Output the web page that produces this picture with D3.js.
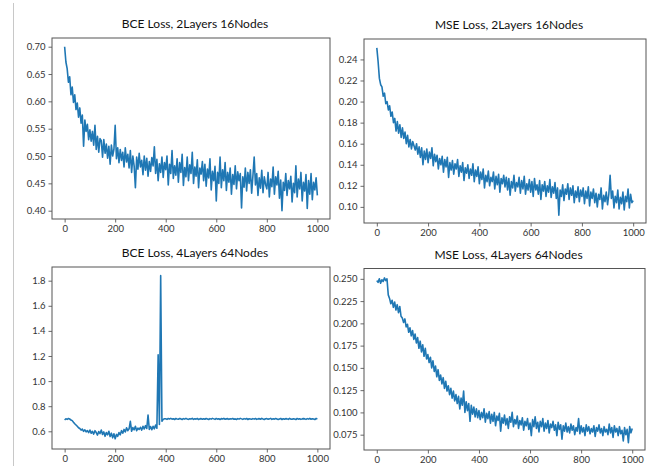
<!DOCTYPE html>
<html><head><meta charset="utf-8">
<script src="https://cdn.jsdelivr.net/npm/d3@7"></script>
<style>
body{margin:0;background:#fff;}
svg{display:block;}
.tick text{font-family:Lato,"Open Sans",sans-serif;font-size:9.5px;fill:#333;}
.title{font-family:Lato,"Open Sans",sans-serif;font-size:12px;fill:#111;}
</style></head>
<body><svg id="c" width="653" height="474"></svg>
<script>
// epoch step between recorded values
const epochStep = 5;

const titles = ["BCE Loss, 2Layers 16Nodes","MSE Loss, 2Layers 16Nodes","BCE Loss, 4Layers 64Nodes","MSE Loss, 4Layers 64Nodes"];

const xTicks = [0,200,400,600,800,1000];
const yTicksBce2 = [0.40,0.45,0.50,0.55,0.60,0.65,0.70];
const yTicksMse2 = [0.10,0.12,0.14,0.16,0.18,0.20,0.22,0.24];
const yTicksBce4 = [0.6,0.8,1.0,1.2,1.4,1.6,1.8];
const yTicksMse4 = [0.075,0.100,0.125,0.150,0.175,0.200,0.225,0.250];

const bce2 = [
0.700,0.672,0.660,0.635,0.645,0.612,0.626,0.598,0.612,0.585,
0.597,0.571,0.588,0.560,0.575,0.518,0.566,0.545,0.558,0.530,
0.548,0.527,0.545,0.520,0.556,0.512,0.536,0.507,0.532,0.528,
0.498,0.530,0.505,0.522,0.496,0.518,0.485,0.520,0.500,0.512,
0.556,0.495,0.515,0.488,0.512,0.492,0.507,0.480,0.515,0.489,
0.503,0.478,0.510,0.470,0.500,0.482,0.442,0.498,0.476,0.505,
0.480,0.492,0.466,0.500,0.474,0.496,0.463,0.490,0.472,0.497,
0.482,0.517,0.468,0.494,0.455,0.486,0.470,0.498,0.461,0.488,
0.475,0.500,0.447,0.485,0.468,0.510,0.459,0.482,0.465,0.495,
0.452,0.488,0.470,0.503,0.446,0.479,0.462,0.498,0.455,0.484,
0.468,0.507,0.450,0.480,0.463,0.493,0.442,0.478,0.467,0.490,
0.455,0.485,0.445,0.476,0.460,0.495,0.438,0.472,0.455,0.481,
0.418,0.470,0.450,0.498,0.442,0.475,0.455,0.488,0.437,0.470,
0.452,0.478,0.430,0.466,0.448,0.482,0.440,0.471,0.455,0.468,
0.405,0.462,0.443,0.478,0.436,0.470,0.450,0.475,0.432,0.464,
0.498,0.447,0.468,0.428,0.460,0.441,0.474,0.433,0.462,0.448,
0.440,0.470,0.425,0.458,0.444,0.480,0.430,0.462,0.447,0.472,
0.423,0.456,0.400,0.452,0.437,0.468,0.428,0.455,0.440,0.463,
0.416,0.450,0.433,0.482,0.425,0.458,0.440,0.470,0.418,0.452,
0.436,0.466,0.404,0.455,0.430,0.468,0.420,0.452,0.438,0.460,
0.428];

const mse2 = [
0.251,0.238,0.222,0.216,0.214,0.205,0.208,0.198,0.200,0.192,
0.196,0.186,0.190,0.180,0.184,0.172,0.181,0.170,0.178,0.166,
0.175,0.165,0.171,0.160,0.168,0.157,0.164,0.155,0.162,0.158,
0.154,0.160,0.150,0.157,0.147,0.156,0.140,0.153,0.145,0.155,
0.142,0.152,0.146,0.156,0.139,0.150,0.143,0.149,0.136,0.146,
0.140,0.148,0.133,0.145,0.138,0.147,0.128,0.142,0.135,0.144,
0.131,0.141,0.136,0.145,0.129,0.139,0.133,0.142,0.125,0.137,
0.132,0.140,0.127,0.136,0.130,0.141,0.124,0.135,0.129,0.138,
0.122,0.133,0.126,0.136,0.118,0.130,0.124,0.134,0.120,0.128,
0.124,0.133,0.117,0.129,0.121,0.131,0.114,0.127,0.122,0.130,
0.119,0.128,0.116,0.127,0.111,0.124,0.118,0.130,0.115,0.123,
0.119,0.128,0.113,0.125,0.117,0.129,0.112,0.122,0.116,0.126,
0.114,0.124,0.110,0.127,0.116,0.121,0.112,0.125,0.107,0.121,
0.115,0.124,0.110,0.120,0.114,0.126,0.109,0.119,0.113,0.123,
0.108,0.118,0.092,0.116,0.110,0.121,0.106,0.117,0.112,0.122,
0.107,0.118,0.111,0.120,0.104,0.115,0.109,0.119,0.105,0.116,
0.110,0.118,0.103,0.115,0.108,0.119,0.101,0.114,0.108,0.117,
0.104,0.113,0.100,0.112,0.107,0.118,0.098,0.111,0.105,0.114,
0.102,0.112,0.130,0.108,0.115,0.099,0.110,0.104,0.116,0.098,
0.109,0.103,0.114,0.097,0.110,0.105,0.117,0.099,0.112,0.104,
0.106];

const bce4 = [
0.690,0.700,0.695,0.702,0.698,0.690,0.685,0.672,0.660,0.650,
0.640,0.628,0.622,0.610,0.618,0.600,0.612,0.595,0.605,0.590,
0.610,0.585,0.600,0.578,0.605,0.590,0.570,0.598,0.582,0.610,
0.575,0.595,0.560,0.590,0.572,0.600,0.558,0.585,0.548,0.580,
0.540,0.575,0.560,0.590,0.572,0.605,0.585,0.615,0.595,0.628,
0.605,0.620,0.680,0.600,0.630,0.612,0.640,0.605,0.625,0.615,
0.632,0.610,0.640,0.618,0.645,0.622,0.730,0.615,0.638,0.612,
0.640,0.620,0.650,0.625,1.210,0.655,1.840,0.680,0.695,0.700,
0.700,0.695,0.702,0.698,0.703,0.697,0.700,0.694,0.702,0.698,
0.696,0.702,0.699,0.694,0.701,0.697,0.703,0.698,0.695,0.700,
0.698,0.703,0.695,0.700,0.697,0.702,0.694,0.699,0.701,0.696,
0.700,0.696,0.702,0.698,0.694,0.701,0.697,0.703,0.699,0.695,
0.702,0.697,0.700,0.694,0.701,0.698,0.703,0.696,0.699,0.701,
0.695,0.700,0.698,0.702,0.696,0.699,0.694,0.701,0.697,0.703,
0.699,0.695,0.701,0.697,0.702,0.694,0.700,0.698,0.696,0.701,
0.697,0.702,0.695,0.699,0.701,0.696,0.703,0.698,0.694,0.700,
0.701,0.696,0.699,0.703,0.695,0.700,0.697,0.702,0.698,0.694,
0.698,0.702,0.694,0.700,0.696,0.701,0.699,0.695,0.703,0.697,
0.696,0.700,0.698,0.694,0.702,0.697,0.700,0.695,0.699,0.701,
0.699,0.695,0.701,0.697,0.703,0.696,0.700,0.698,0.694,0.702,
0.699];

const mse4 = [
0.248,0.246,0.250,0.245,0.249,0.247,0.251,0.248,0.250,0.232,
0.228,0.222,0.226,0.218,0.224,0.215,0.221,0.212,0.219,0.208,
0.206,0.201,0.205,0.196,0.199,0.190,0.195,0.186,0.192,0.182,
0.188,0.178,0.184,0.172,0.180,0.168,0.176,0.163,0.172,0.160,
0.165,0.156,0.162,0.150,0.158,0.146,0.152,0.140,0.148,0.136,
0.142,0.132,0.139,0.127,0.135,0.124,0.130,0.120,0.127,0.116,
0.124,0.113,0.120,0.110,0.118,0.104,0.116,0.108,0.124,0.100,
0.112,0.102,0.110,0.090,0.108,0.098,0.106,0.095,0.104,0.094,
0.102,0.092,0.100,0.094,0.104,0.089,0.099,0.093,0.101,0.088,
0.098,0.090,0.100,0.085,0.096,0.091,0.099,0.079,0.094,0.088,
0.097,0.086,0.093,0.082,0.095,0.089,0.100,0.084,0.092,0.087,
0.096,0.082,0.091,0.086,0.094,0.080,0.090,0.085,0.093,0.081,
0.088,0.074,0.092,0.084,0.095,0.082,0.089,0.078,0.090,0.084,
0.093,0.079,0.088,0.082,0.091,0.077,0.087,0.083,0.090,0.080,
0.086,0.074,0.089,0.081,0.086,0.070,0.085,0.079,0.088,0.078,
0.084,0.077,0.087,0.080,0.085,0.075,0.083,0.079,0.093,0.076,
0.085,0.078,0.083,0.074,0.086,0.079,0.084,0.076,0.082,0.078,
0.085,0.073,0.083,0.079,0.086,0.077,0.082,0.074,0.084,0.078,
0.081,0.075,0.087,0.077,0.083,0.072,0.085,0.078,0.082,0.074,
0.084,0.076,0.080,0.068,0.083,0.075,0.081,0.066,0.084,0.077,
0.082];

const panels = [
  {title:titles[0], data:bce2, yTicks:yTicksBce2, fmt:".2f", box:[52,330,38,219], yDom:[0.3848,0.7159]},
  {title:titles[1], data:mse2, yTicks:yTicksMse2, fmt:".2f", box:[364,646,39,223], yDom:[0.0847,0.2594]},
  {title:titles[2], data:bce4, yTicks:yTicksBce4, fmt:".1f", box:[52,330,267,449], yDom:[0.459,1.909]},
  {title:titles[3], data:mse4, yTicks:yTicksMse4, fmt:".3f", box:[364,645,268.5,450], yDom:[0.0578,0.2616]}
];

const svg = d3.select("#c");
svg.append("line").attr("x1",13.5).attr("x2",13.5).attr("y1",3).attr("y2",466)
  .attr("stroke","#c8c8c8").attr("stroke-width",1);

panels.forEach(p=>{
  const [l,r,t,b] = p.box;
  const x = d3.scaleLinear().domain([-50,1050]).range([l,r]);
  const y = d3.scaleLinear().domain(p.yDom).range([b,t]);
  const g = svg.append("g");
  g.append("text").attr("class","title").attr("x",(l+r)/2+4).attr("y",t-10)
    .attr("text-anchor","middle").text(p.title);
  const line = d3.line().x((d,i)=>x(i*epochStep)).y(d=>y(d));
  g.append("path").datum(p.data).attr("d",line).attr("fill","none")
    .attr("stroke","#1f77b4").attr("stroke-width",1.6).attr("stroke-linejoin","round");
  const xa = g.append("g").attr("transform",`translate(0,${b})`)
    .call(d3.axisBottom(x).tickValues(xTicks).tickSize(3.5).tickPadding(3).tickFormat(d3.format("d")));
  const ya = g.append("g").attr("transform",`translate(${l},0)`)
    .call(d3.axisLeft(y).tickValues(p.yTicks).tickSize(3.5).tickPadding(3).tickFormat(d3.format(p.fmt)));
  [xa,ya].forEach(a=>{a.select(".domain").remove(); a.selectAll(".tick line").attr("stroke","#444").attr("stroke-width",0.8);});
  g.append("rect").attr("x",l).attr("y",t).attr("width",r-l).attr("height",b-t)
    .attr("fill","none").attr("stroke","#555").attr("stroke-width",1);
});
</script></body></html>
